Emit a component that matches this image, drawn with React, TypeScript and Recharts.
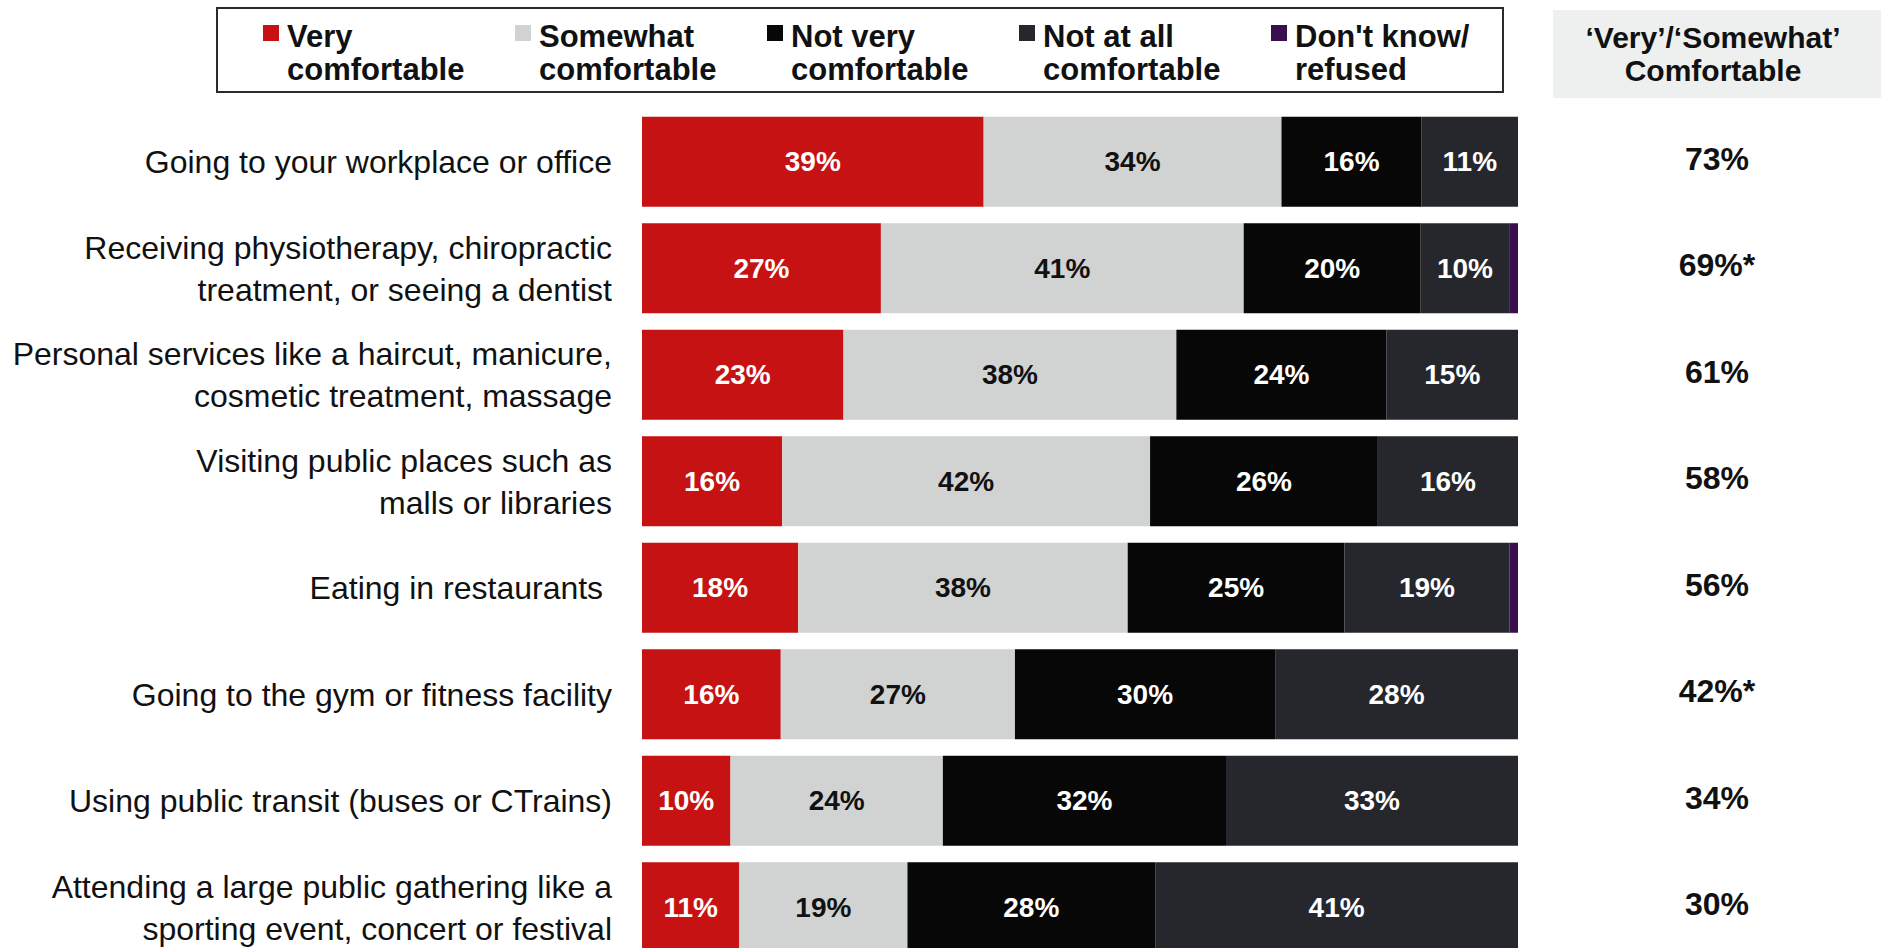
import { BarChart, Bar, XAxis, YAxis, LabelList } from 'recharts';

// Survey: comfort level with activities (percent of respondents)
const activities: string[][] = [
  ['Going to your workplace or office'],
  ['Receiving physiotherapy, chiropractic', 'treatment, or seeing a dentist'],
  ['Personal services like a haircut, manicure,', 'cosmetic treatment, massage'],
  ['Visiting public places such as', 'malls or libraries'],
  ['Eating in restaurants\u00a0'],
  ['Going to the gym or fitness facility'],
  ['Using public transit (buses or CTrains)'],
  ['Attending a large public gathering like a', 'sporting event, concert or festival'],
];

const veryComfortable = [39, 27, 23, 16, 18, 16, 10, 11];
const somewhatComfortable = [34, 41, 38, 42, 38, 27, 24, 19];
const notVeryComfortable = [16, 20, 24, 26, 25, 30, 32, 28];
const notAtAllComfortable = [11, 10, 15, 16, 19, 28, 33, 41];
const dontKnow = [0, 1, 0, 0, 1, 0, 0, 0];

const topTwoLabels = ['73%', '69%*', '61%', '58%', '56%', '42%*', '34%', '30%'];

const legendLines = [
  ['Very', 'comfortable'],
  ['Somewhat', 'comfortable'],
  ['Not very', 'comfortable'],
  ['Not at all', 'comfortable'],
  ["Don't know/", 'refused'],
];

const COLORS = ['#c61212', '#d1d3d2', '#070707', '#25272d', '#3a0f4f'];
const FONT = '"Liberation Sans", Arial, Helvetica, sans-serif';

const CHART_W = 1881;
const CHART_H = 975;
const MARGIN = { top: 108.75, right: 363, bottom: 14.25, left: 0 };

// bars are drawn normalised so each row spans the full width
const chartData = activities.map((lines, i) => {
  const raw = [
    veryComfortable[i],
    somewhatComfortable[i],
    notVeryComfortable[i],
    notAtAllComfortable[i],
    dontKnow[i],
  ];
  const sum = raw.reduce((s, v) => s + v, 0);
  return {
    key: i,
    very: (raw[0] * 100) / sum,
    somewhat: (raw[1] * 100) / sum,
    notVery: (raw[2] * 100) / sum,
    notAtAll: (raw[3] * 100) / sum,
    dk: (raw[4] * 100) / sum,
    veryLabel: `${raw[0]}%`,
    somewhatLabel: `${raw[1]}%`,
    notVeryLabel: `${raw[2]}%`,
    notAtAllLabel: `${raw[3]}%`,
    total: topTwoLabels[i],
  };
});

const CategoryTick = (props: any) => {
  const { x, y, payload } = props;
  const lines = activities[payload.value] || [];
  const lh = 42;
  const start = -((lines.length - 1) * lh) / 2;
  return (
    <text
      x={x}
      y={y}
      textAnchor="end"
      fontFamily={FONT}
      fontSize={32}
      fill="#111"
      style={{ whiteSpace: 'pre' }}
    >
      {lines.map((l, i) => (
        <tspan key={i} x={x} dy={i === 0 ? start + 11 : lh}>
          {l}
        </tspan>
      ))}
    </text>
  );
};

const segmentLabel = (color: string) => (props: any) => {
  const { x, y, width, height, value } = props;
  if (!value || width <= 0) return null;
  return (
    <text
      x={x + width / 2}
      y={y + height / 2}
      textAnchor="middle"
      dominantBaseline="central"
      fontFamily={FONT}
      fontSize={28}
      fontWeight={700}
      fill={color}
    >
      {value}
    </text>
  );
};

// the 'Very'/'Somewhat' column sits to the right of the plot area
const totalLabel = (props: any) => {
  const { y, height, value } = props;
  return (
    <text
      x={CHART_W - MARGIN.right + 199}
      y={y + height / 2 - 3}
      textAnchor="middle"
      dominantBaseline="central"
      fontFamily={FONT}
      fontSize={32}
      fontWeight={700}
      fill="#111"
    >
      {value}
    </text>
  );
};

const Legend = () => (
  <div
    style={{
      position: 'absolute',
      left: 216,
      top: 7,
      width: 1288,
      height: 86,
      border: '2px solid #2b2b2b',
      boxSizing: 'border-box',
      fontFamily: FONT,
    }}
  >
    {legendLines.map((lines, i) => (
      <div key={i} style={{ position: 'absolute', left: 45 + i * 252, top: 0 }}>
        <span
          style={{
            position: 'absolute',
            left: 0,
            top: 16,
            width: 16,
            height: 16,
            background: COLORS[i],
          }}
        />
        <div
          style={{
            position: 'absolute',
            left: 24,
            top: 11,
            fontSize: 31,
            fontWeight: 700,
            lineHeight: '33px',
            color: '#111',
            whiteSpace: 'nowrap',
          }}
        >
          {lines.map((l, j) => (
            <div key={j}>{l}</div>
          ))}
        </div>
      </div>
    ))}
  </div>
);

export default function App() {
  return (
    <div
      style={{
        position: 'fixed',
        left: 0,
        top: 0,
        width: CHART_W,
        height: 948,
        overflow: 'hidden',
        background: '#fff',
      }}
    >
      <Legend />
      <div
        style={{
          position: 'absolute',
          left: 1553,
          top: 10,
          width: 328,
          height: 88,
          background: '#eef0ef',
        }}
      />
      <div
        style={{
          position: 'absolute',
          left: 1553,
          top: 21,
          width: 320,
          textAlign: 'center',
          fontFamily: FONT,
          fontSize: 30,
          fontWeight: 700,
          lineHeight: '33px',
          color: '#111',
        }}
      >
        <div>‘Very’/‘Somewhat’</div>
        <div>Comfortable</div>
      </div>
      <div style={{ position: 'absolute', left: 0, top: 0 }}>
        <BarChart
          width={CHART_W}
          height={CHART_H}
          data={chartData}
          layout="vertical"
          margin={MARGIN}
          barSize={90}
        >
          <XAxis type="number" domain={[0, 100]} hide />
          <YAxis
            type="category"
            dataKey="key"
            width={642}
            axisLine={false}
            tickLine={false}
            tickSize={0}
            tickMargin={30}
            interval={0}
            tick={<CategoryTick />}
          />
          <Bar dataKey="very" stackId="a" fill={COLORS[0]} isAnimationActive={false}>
            <LabelList dataKey="veryLabel" content={segmentLabel('#fff')} />
            <LabelList dataKey="total" content={totalLabel} />
          </Bar>
          <Bar dataKey="somewhat" stackId="a" fill={COLORS[1]} isAnimationActive={false}>
            <LabelList dataKey="somewhatLabel" content={segmentLabel('#111')} />
          </Bar>
          <Bar dataKey="notVery" stackId="a" fill={COLORS[2]} isAnimationActive={false}>
            <LabelList dataKey="notVeryLabel" content={segmentLabel('#fff')} />
          </Bar>
          <Bar dataKey="notAtAll" stackId="a" fill={COLORS[3]} isAnimationActive={false}>
            <LabelList dataKey="notAtAllLabel" content={segmentLabel('#fff')} />
          </Bar>
          <Bar dataKey="dk" stackId="a" fill={COLORS[4]} isAnimationActive={false} />
        </BarChart>
      </div>
    </div>
  );
}
